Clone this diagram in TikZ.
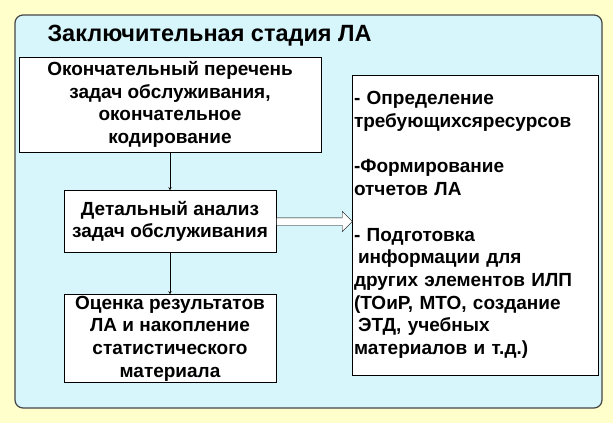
\documentclass[tikz,border=0pt]{standalone}
\usepackage{fontspec}
\setmainfont{Liberation Sans}
\usetikzlibrary{shapes.arrows, arrows, positioning}

\definecolor{pageyellow}{RGB}{255,255,204}
\definecolor{panelcyan}{RGB}{215,246,251}
\definecolor{panelrim}{RGB}{70,70,70}

\tikzstyle{panel} = [
    rectangle,
    rounded corners=8pt,
    draw=panelrim,
    line width=1.2pt,
    fill=panelcyan
]
\tikzstyle{stage} = [
    rectangle,
    draw=black,
    fill=white,
    align=center,
    inner sep=0pt,
    font=\bfseries\fontsize{19}{22.7}\selectfont
]
\tikzstyle{results} = [
    rectangle,
    draw=black,
    fill=white,
    align=left,
    minimum width=246pt,
    minimum height=300pt,
    text width=242pt,
    inner sep=2pt,
    font=\bfseries\fontsize{19}{22.7}\selectfont
]
\tikzstyle{arrow} = [thin,->,>=stealth]
\tikzstyle{blockarrow} = [
    single arrow,
    single arrow head extend=6.5pt,
    minimum height=76pt,
    inner sep=3.5pt,
    draw=black,
    fill=white
]

\begin{document}
\begin{tikzpicture}[x=1pt, y=1pt, node distance=117pt]

\fill[pageyellow] (0,0) rectangle (613,-423);
\useasboundingbox (0,0) rectangle (613,-423);
\draw[panel] (15,-15) rectangle (602,-408);

\node (title) [anchor=west, font=\bfseries\fontsize{23.5}{28}\selectfont] at (44,-36)
{Заключительная стадия ЛА};

\node (final) [stage, minimum width=302pt, minimum height=95pt] at (170,-104.5)
{Окончательный перечень\\ задач обслуживания,\\ окончательное\\ кодирование};

\node (detail) [stage, minimum width=212pt, minimum height=62pt, below of=final]
{Детальный анализ\\ задач обслуживания};

\node (assess) [stage, minimum width=212pt, minimum height=88pt, below of=detail]
{Оценка результатов\\ ЛА и накопление\\ статистического\\ материала};

\node (outputs) [results] at (475,-225)
{- Определение\\ требующихсяресурсов\\[22.7pt]
-Формирование\\ отчетов ЛА\\[22.7pt]
- Подготовка\\ \hspace*{4pt}информации для\\ других элементов ИЛП\\
(ТОиР, МТО, создание\\ \hspace*{4pt}ЭТД, учебных\\ материалов и т.д.)};

\draw [arrow] (final) -- (detail);
\draw [arrow] (detail) -- (assess);

\node (push) [blockarrow, right=0pt of detail] {};

\end{tikzpicture}
\end{document}
